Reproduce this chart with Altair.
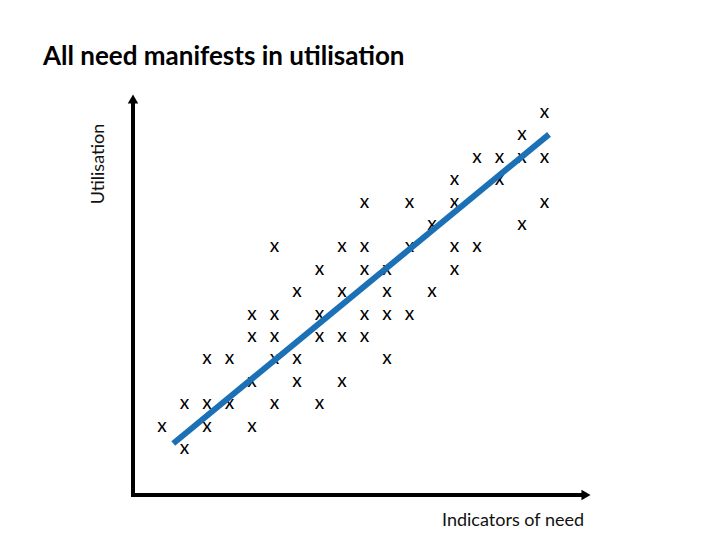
import altair as alt
import pandas as pd

# Grid-based scatter of "x" markers: (need index, utilisation index)
need = [1,
        0, 2, 4,
        1, 2, 3, 5, 7,
        4, 6, 8,
        2, 3, 5, 6, 10,
        4, 5, 7, 8, 9,
        4, 5, 7, 9, 10, 11,
        6, 8, 10, 12,
        7, 9, 10, 13,
        5, 8, 9, 11, 13, 14,
        12, 16,
        9, 11, 13, 17,
        13, 15,
        14, 15, 16, 17,
        16,
        17]
util = [0,
        1, 1, 1,
        2, 2, 2, 2, 2,
        3, 3, 3,
        4, 4, 4, 4, 4,
        5, 5, 5, 5, 5,
        6, 6, 6, 6, 6, 6,
        7, 7, 7, 7,
        8, 8, 8, 8,
        9, 9, 9, 9, 9, 9,
        10, 10,
        11, 11, 11, 11,
        12, 12,
        13, 13, 13, 13,
        14,
        15]
fit_need = [0.5, 17.2]
fit_util = [0.2, 14.0]

title_text = "All need manifests in utilisation"
ylabel = "Utilisation"
xlabel = "Indicators of need"

W, H = 704, 524
xs = alt.Scale(domain=[-6.844, 24.444], nice=False, zero=False)
ys = alt.Scale(domain=[-3.75, 19.643], nice=False, zero=False)

pts = pd.DataFrame({"need": need, "util": util, "m": ["x"] * len(need)})
fit = pd.DataFrame({"need": fit_need, "util": fit_util})

marks = alt.Chart(pts).mark_text(fontSize=19, font="Lato", color="black",
                                 align="center", baseline="middle").encode(
    x=alt.X("need:Q", scale=xs, axis=None),
    y=alt.Y("util:Q", scale=ys, axis=None),
    text="m:N",
)

line = alt.Chart(fit).mark_line(color="#1c70b6", strokeWidth=6, strokeCap="butt").encode(
    x=alt.X("need:Q", scale=xs, axis=None),
    y=alt.Y("util:Q", scale=ys, axis=None),
)

one = pd.DataFrame({"a": [0]})
base = alt.Chart(one)
vaxis = base.mark_rule(color="black", strokeWidth=4).encode(
    x=alt.value(125), y=alt.value(487), y2=alt.value(94))
haxis = base.mark_rule(color="black", strokeWidth=4).encode(
    x=alt.value(123), x2=alt.value(576), y=alt.value(487))
vhead = base.mark_point(shape="triangle-up", filled=True, color="black", size=110, opacity=1).encode(
    x=alt.value(125), y=alt.value(91))
hhead = base.mark_point(shape="triangle-right", filled=True, color="black", size=110, opacity=1).encode(
    x=alt.value(578), y=alt.value(487))

ttl = base.mark_text(text=title_text, fontSize=26, fontWeight="bold", font="Lato",
                     align="left", baseline="alphabetic", color="black").encode(
    x=alt.value(35), y=alt.value(57))
yl = base.mark_text(text=ylabel, fontSize=18, font="Lato", angle=270,
                    align="center", baseline="middle", color="#111111").encode(
    x=alt.value(91), y=alt.value(156))
xl = base.mark_text(text=xlabel, fontSize=18, font="Lato",
                    align="left", baseline="alphabetic", color="#111111").encode(
    x=alt.value(434), y=alt.value(518))

chart = alt.layer(vaxis, haxis, vhead, hhead, marks, line, ttl, yl, xl).properties(
    width=W, height=H, autosize=alt.AutoSizeParams(type="none"), padding=0
).configure_view(stroke=None)

chart.save("out.html", embed_options={"renderer": "svg", "actions": False})
